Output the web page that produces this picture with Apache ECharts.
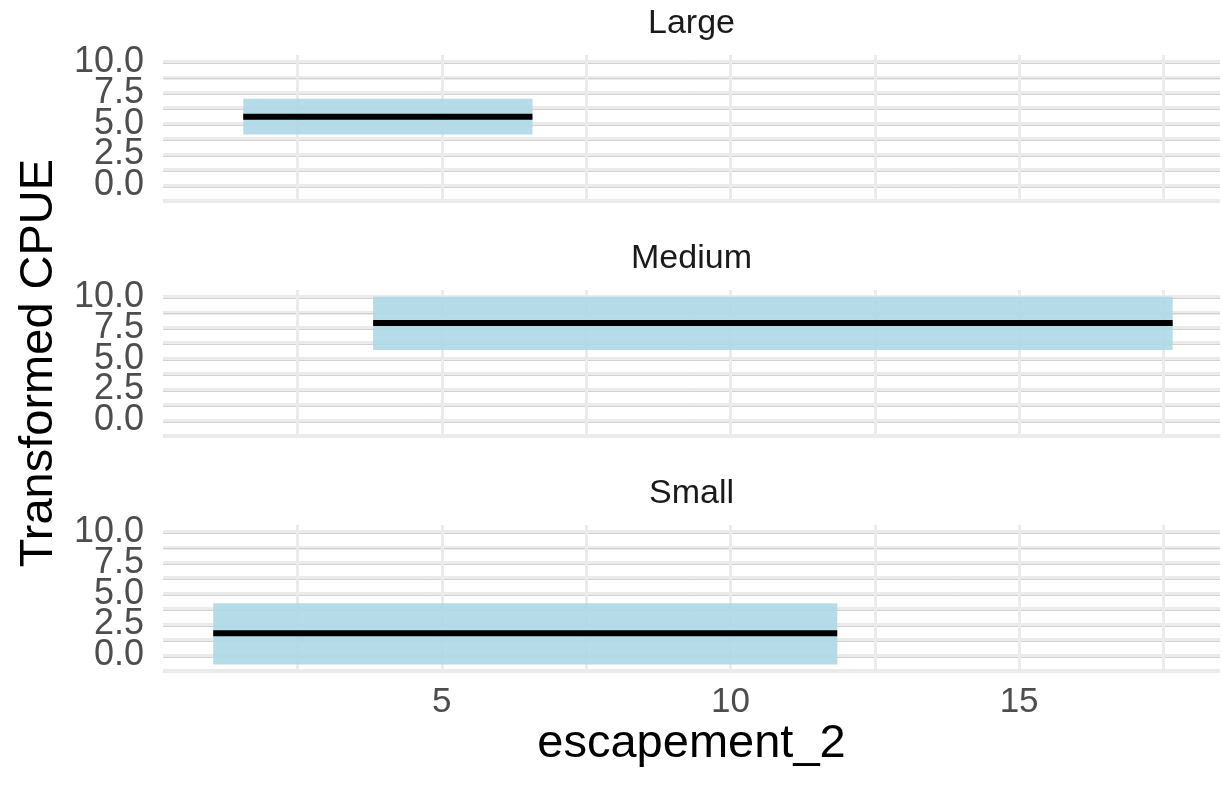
<!DOCTYPE html>
<html><head><meta charset="utf-8">
<script src="https://cdn.jsdelivr.net/npm/echarts@6/dist/echarts.min.js"></script>
<style>html,body{margin:0;padding:0;background:#fff}#c{width:1222px;height:785px}</style>
</head><body><div id="c"></div>
<script>
// ---- data ----
const panels = ['Large', 'Medium', 'Small'];
const xMin  = [1.56, 3.81, 1.04];
const xMax  = [6.57, 17.66, 11.85];
const yLow  = [4.11, 5.69, -0.73];
const yHigh = [7.02, 10.0, 4.23];
const yMid  = [5.56, 7.89, 1.79];
const yTickVals = [0, 2.5, 5, 7.5, 10];
const xTickVals = [5, 10, 15];
const xTitle = 'escapement_2';
const yTitle = 'Transformed CPUE';

// ---- layout ----
const FONT = '"Liberation Sans", Arial, sans-serif';
const X_RANGE = [0.17, 18.48];
const Y_RANGE = [-1.26, 10.55];
const GL = 163, GW = 1057, GH = 146, TOPS = [55, 290, 525];

const chart = echarts.init(document.getElementById('c'), null, {renderer: 'canvas'});

function isTick(v, arr) { return arr.some(t => Math.abs(t - v) < 1e-6); }

function renderItem(params, api) {
  const x0 = api.value(0), x1 = api.value(1), lo = api.value(2), hi = api.value(3), mid = api.value(4);
  const p0 = api.coord([x0, hi]);
  const p1 = api.coord([x1, lo]);
  const m0 = api.coord([x0, mid]);
  const m1 = api.coord([x1, mid]);
  return {
    type: 'group',
    children: [
      {type: 'rect', shape: {x: p0[0], y: p0[1], width: p1[0] - p0[0], height: p1[1] - p0[1]},
       style: {fill: '#ADD8E6', opacity: 0.9}},
      {type: 'line', shape: {x1: m0[0], y1: m0[1], x2: m1[0], y2: m1[1]},
       style: {stroke: '#000000', lineWidth: 6}}
    ]
  };
}

const grid = [], xAxis = [], yAxis = [], series = [], graphic = [];
panels.forEach((name, i) => {
  grid.push({left: GL, width: GW, top: TOPS[i], height: GH, containLabel: false});
  const last = i === panels.length - 1;
  xAxis.push({
    type: 'value', gridIndex: i, min: X_RANGE[0], max: X_RANGE[1],
    minInterval: 2.5, maxInterval: 2.5,
    axisLine: {show: false}, axisTick: {show: false},
    axisLabel: {show: last, margin: 14, color: '#4D4D4D', fontSize: 35, fontFamily: FONT,
      showMinLabel: false, showMaxLabel: false,
      formatter: v => isTick(v, xTickVals) ? String(Math.round(v)) : ''},
    splitLine: {show: true, showMinLine: false, showMaxLine: false,
      lineStyle: {color: '#EBEBEB', width: 3}},
    name: last ? xTitle : '', nameLocation: 'middle', nameGap: 42,
    nameTextStyle: {color: '#000000', fontSize: 47, fontFamily: FONT}
  });
  // main y axis (light bands)
  yAxis.push({
    type: 'value', gridIndex: i, min: Y_RANGE[0], max: Y_RANGE[1],
    minInterval: 1.25, maxInterval: 1.25,
    axisLine: {show: false}, axisTick: {show: false},
    axisLabel: {show: true, margin: 19, color: '#4D4D4D', fontSize: 36, fontFamily: FONT,
      showMinLabel: false, showMaxLabel: false,
      formatter: v => isTick(v, yTickVals) ? v.toFixed(1) : ''},
    splitLine: {show: true, showMinLine: true, showMaxLine: false,
      lineStyle: {color: '#EBEBEB', width: 4}},
    name: i === 1 ? yTitle : '', nameLocation: 'middle', nameGap: 98, nameRotate: 90,
    nameTextStyle: {color: '#000000', fontSize: 47, fontFamily: FONT}
  });
  // secondary y axis (thin darker edge of each grid line)
  yAxis.push({
    type: 'value', gridIndex: i, min: Y_RANGE[0] + 0.12, max: Y_RANGE[1] + 0.12,
    minInterval: 1.25, maxInterval: 1.25,
    axisLine: {show: false}, axisTick: {show: false}, axisLabel: {show: false},
    splitLine: {show: true, showMinLine: false, showMaxLine: false,
      lineStyle: {color: '#D2D2D2', width: 1}}
  });
  series.push({
    type: 'custom', name: name, xAxisIndex: i, yAxisIndex: 2 * i,
    renderItem: renderItem,
    encode: {x: [0, 1], y: [2, 3, 4]},
    data: [[xMin[i], xMax[i], yLow[i], yHigh[i], yMid[i]]],
    z: 5, silent: true
  });
  graphic.push({
    type: 'text', x: GL + GW / 2, y: TOPS[i] - 31,
    style: {text: name, fill: '#1A1A1A', font: '34px ' + FONT, textAlign: 'center', textVerticalAlign: 'middle'}
  });
});

chart.setOption({
  animation: false,
  backgroundColor: '#ffffff',
  grid, xAxis, yAxis, series, graphic
});
</script>
</body></html>
